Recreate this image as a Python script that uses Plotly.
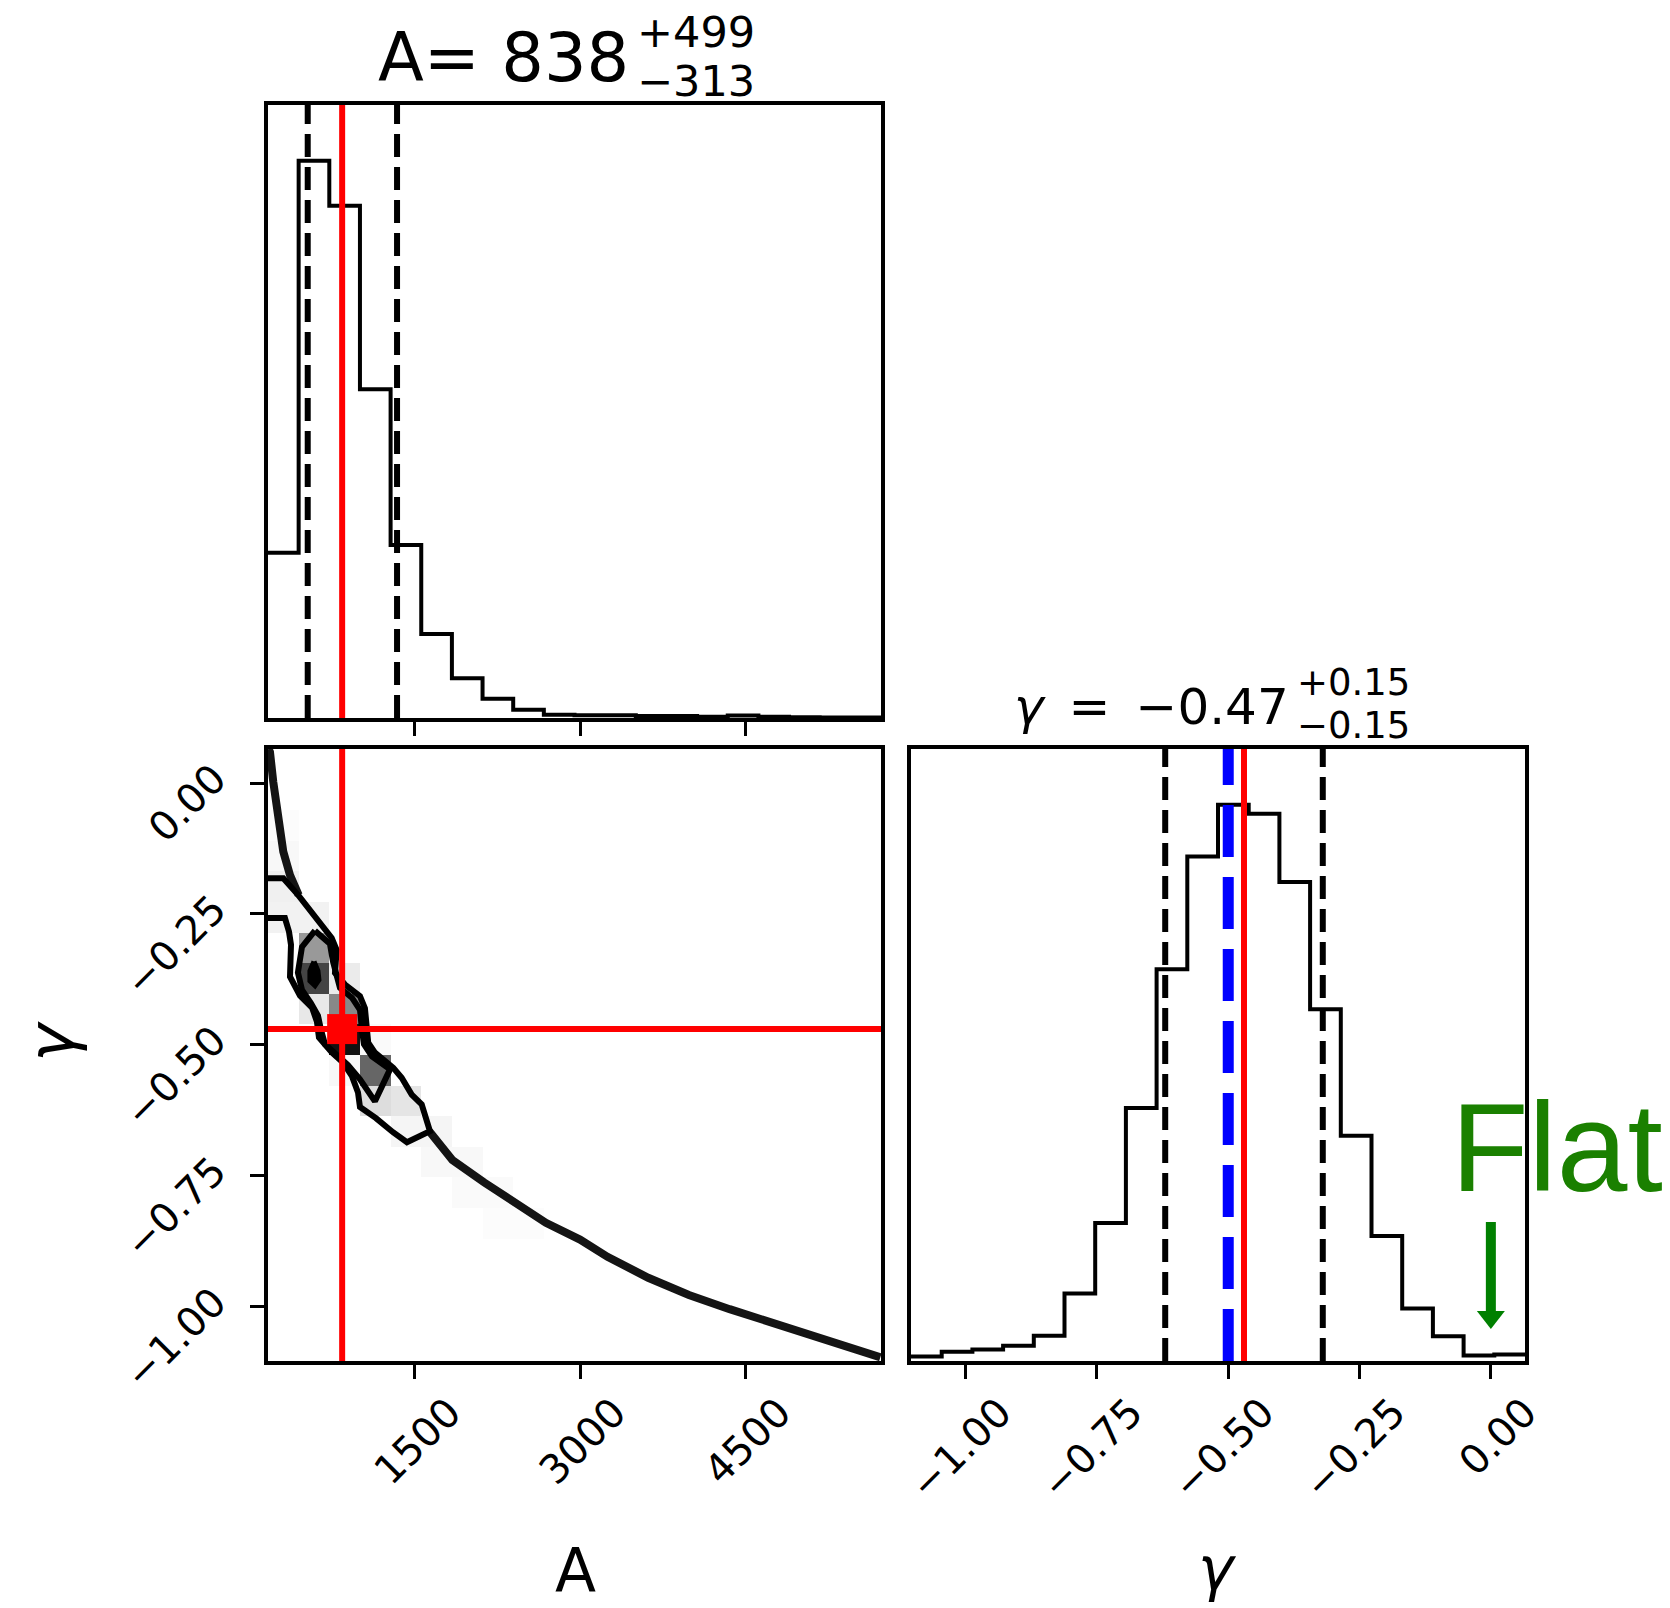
import numpy as np
import plotly.graph_objects as go

# ---------------- data ----------------
A_hist_counts = [403, 1360, 1250, 802, 422, 205, 97, 47, 20, 8, 7, 7, 5, 5, 3, 6, 3, 2, 1, 1]
gamma_hist_counts = [10, 20, 25, 33, 55, 147, 300, 550, 852, 1097, 1210, 1190, 1042, 765, 490, 272,
                     114, 54, 12, 14]
A_range = [164, 5736]
gamma_range = [-1.104, 0.065]
A_quantiles = [525, 1337]
gamma_quantiles = [-0.62, -0.32]
truth_A = 838
truth_gamma = -0.47
gamma_blue = -0.50
gamma_flat = 0.0
A_ticks = [1500, 3000, 4500]
gamma_ticks = [-1.0, -0.75, -0.5, -0.25, 0.0]

# samples outside the lowest contour (two visible pieces of the degeneracy curve)
curve_upper_A = [170, 182, 212, 227, 257, 303, 364, 425, 443]
curve_upper_gamma = [0.065, 0.059, 0.002, -0.023, -0.074, -0.131, -0.176, -0.208, -0.214]
curve_lower_A = [1630, 1840, 2130, 2390, 2690, 3000, 3250, 3620, 3990, 4360, 4730, 5100, 5470, 5730]
curve_lower_gamma = [-0.665, -0.720, -0.763, -0.800, -0.840, -0.872, -0.905, -0.945, -0.978,
                     -1.005, -1.030, -1.052, -1.076, -1.097]

# 2D histogram cells: A-bin index, gamma-bin index (from bottom), density (0 white .. 255 black)
cell_A_bin = [0, 0, 0, 0, 1, 1, 1, 1, 2, 2, 2, 3, 2, 3, 3, 4, 4, 5, 5, 6, 6, 7, 7, 8]
cell_gamma_bin = [17, 16, 15, 14, 14, 13, 12, 11, 12, 11, 10, 10, 9, 9, 8, 8, 7, 7, 6, 6, 5, 5, 4, 4]
cell_density = [3, 7, 15, 13, 13, 102, 187, 23, 20, 119, 238, 5, 7, 153, 34, 26, 10, 10, 7, 7, 5, 5, 3, 3]

# contour lines
contour_outer_A = [164, 303, 439, 591, 743, 788, 773, 864, 1000, 1045, 1061, 1075, 1136, 1303, 1379,
                   1470, 1561, 1636, 1427, 1300, 1145, 1000, 982, 927, 846, 746, 627, 609, 564, 455,
                   364, 373, 355, 318, 164]
contour_outer_gamma = [-0.182, -0.182, -0.214, -0.253, -0.296, -0.319, -0.363, -0.385, -0.407, -0.430,
                       -0.471, -0.496, -0.515, -0.544, -0.563, -0.595, -0.614, -0.665, -0.686, -0.667,
                       -0.640, -0.619, -0.591, -0.560, -0.534, -0.515, -0.486, -0.456, -0.429, -0.406,
                       -0.370, -0.309, -0.284, -0.258, -0.258]
contour_mid_A = [591, 727, 755, 818, 927, 1000, 1018, 1036, 1109, 1273, 1136, 1000, 891, 800, 682, 645,
                 618, 555, 473, 436, 473, 591]
contour_mid_gamma = [-0.282, -0.307, -0.341, -0.391, -0.410, -0.433, -0.471, -0.499, -0.522, -0.547,
                     -0.608, -0.566, -0.539, -0.520, -0.499, -0.471, -0.444, -0.421, -0.395, -0.362,
                     -0.313, -0.282]
contour_inner_A = [582, 618, 627, 591, 545, 545, 582]
contour_inner_gamma = [-0.341, -0.359, -0.376, -0.387, -0.378, -0.359, -0.341]

# ---------------- figure ----------------
W, H = 1670, 1608
FONT = "DejaVu Sans"
TICKFONT = dict(family=FONT, size=40, color="black")


def px_x(v):
    return v / W


def px_y(v):
    return 1 - v / H


dom_x1 = [px_x(268), px_x(881)]
dom_x3 = [px_x(911), px_x(1525)]
dom_ytop = [px_y(718), px_y(105)]
dom_ybot = [px_y(1361), px_y(749)]

fig = go.Figure()

# top: A histogram
A_edges = np.linspace(A_range[0], A_range[1], len(A_hist_counts) + 1)
fig.add_trace(go.Scatter(x=A_edges, y=list(A_hist_counts) + [A_hist_counts[-1]], mode="lines",
                         line=dict(color="black", width=4, shape="hv"), xaxis="x", yaxis="y",
                         showlegend=False, hoverinfo="skip"))

# bottom-right: gamma histogram
g_edges = np.linspace(gamma_range[0], gamma_range[1], len(gamma_hist_counts) + 1)
fig.add_trace(go.Scatter(x=g_edges, y=list(gamma_hist_counts) + [gamma_hist_counts[-1]], mode="lines",
                         line=dict(color="black", width=4, shape="hv"), xaxis="x3", yaxis="y3",
                         showlegend=False, hoverinfo="skip"))

# bottom-left: 2D histogram cells
nb = 20
z = [[None] * nb for _ in range(nb)]
for ia, ig, d in zip(cell_A_bin, cell_gamma_bin, cell_density):
    z[ig][ia] = d
A_centers = 0.5 * (A_edges[:-1] + A_edges[1:])
g2_edges = np.linspace(gamma_range[0], gamma_range[1], nb + 1)
g_centers = 0.5 * (g2_edges[:-1] + g2_edges[1:])
fig.add_trace(go.Heatmap(x=A_centers, y=g_centers, z=z, zmin=0, zmax=255,
                         colorscale=[[0, "white"], [1, "black"]], showscale=False,
                         xaxis="x2", yaxis="y2", hoverinfo="skip"))

for ca, cg in [(curve_upper_A, curve_upper_gamma), (curve_lower_A, curve_lower_gamma)]:
    fig.add_trace(go.Scatter(x=ca, y=cg, mode="lines", line=dict(color="#141414", width=8),
                             xaxis="x2", yaxis="y2", showlegend=False, hoverinfo="skip"))

for ca, cg in [(contour_outer_A, contour_outer_gamma), (contour_mid_A, contour_mid_gamma)]:
    fig.add_trace(go.Scatter(x=ca, y=cg, mode="lines", line=dict(color="black", width=6),
                             xaxis="x2", yaxis="y2", showlegend=False, hoverinfo="skip"))
fig.add_trace(go.Scatter(x=contour_inner_A, y=contour_inner_gamma, mode="lines", fill="toself",
                         fillcolor="black", line=dict(color="black", width=5),
                         xaxis="x2", yaxis="y2", showlegend=False, hoverinfo="skip"))

fig.add_trace(go.Scatter(x=[truth_A], y=[truth_gamma], mode="markers",
                         marker=dict(symbol="square", size=30, color="red", line=dict(width=0)),
                         xaxis="x2", yaxis="y2", showlegend=False, hoverinfo="skip"))

# ---------------- reference lines ----------------
shapes = []
BLACK_DASH = dict(color="black", width=6, dash="23px,10px")
RED = dict(color="red", width=6)
for q in A_quantiles:
    shapes.append(dict(type="line", xref="x", yref="y domain", x0=q, x1=q, y0=0, y1=1, line=BLACK_DASH))
shapes.append(dict(type="line", xref="x", yref="y domain", x0=truth_A, x1=truth_A, y0=0, y1=1, line=RED))
for q in gamma_quantiles:
    shapes.append(dict(type="line", xref="x3", yref="y3 domain", x0=q, x1=q, y0=0, y1=1, line=BLACK_DASH))
shapes.append(dict(type="line", xref="x3", yref="y3 domain", x0=gamma_blue, x1=gamma_blue, y0=0, y1=1,
                   line=dict(color="blue", width=11, dash="52px,20px")))
shapes.append(dict(type="line", xref="x3", yref="y3 domain", x0=truth_gamma, x1=truth_gamma, y0=0, y1=1,
                   line=RED))
shapes.append(dict(type="line", xref="x2", yref="y2 domain", x0=truth_A, x1=truth_A, y0=0, y1=1, line=RED))
shapes.append(dict(type="line", xref="x2 domain", yref="y2", x0=0, x1=1, y0=truth_gamma, y1=truth_gamma,
                   line=RED))

# green arrow pointing at gamma = 0 ("Flat")
g_per_px = (gamma_range[1] - gamma_range[0]) / (1525 - 911)
shapes.append(dict(type="line", xref="x3", yref="paper", x0=gamma_flat, x1=gamma_flat,
                   y0=px_y(1222), y1=px_y(1313), line=dict(color="#008000", width=10)))
hw = 14 * g_per_px
shapes.append(dict(type="path", xref="x3", yref="paper",
                   path=f"M {gamma_flat - hw},{px_y(1311)} L {gamma_flat + hw},{px_y(1311)} "
                        f"L {gamma_flat},{px_y(1329)} Z",
                   fillcolor="#008000", line=dict(width=0)))

# ---------------- annotations ----------------
ann = []


def add_text(text, x, y, size, xanchor="center", yanchor="middle", color="black", family=FONT, angle=0):
    ann.append(dict(text=text, x=px_x(x), y=px_y(y), xref="paper", yref="paper", showarrow=False,
                    xanchor=xanchor, yanchor=yanchor, textangle=angle, borderpad=0,
                    font=dict(family=family, size=size, color=color)))


add_text("A= 838", 630, 58, 67, xanchor="right")
add_text("+499", 636, 32, 43, xanchor="left")
add_text("\u2212313", 636, 81, 43, xanchor="left")
add_text("<i>\u03b3</i>\u2002=\u2002\u22120.47", 1290, 707, 50, xanchor="right")
add_text("+0.15", 1296, 682, 37, xanchor="left")
add_text("\u22120.15", 1296, 725, 37, xanchor="left")
add_text("A", 575, 1570, 60)
add_text("<i>\u03b3</i>", 1217, 1568, 60)
add_text("<i>\u03b3</i>", 52, 1042, 64, angle=-90)
add_text("Flat", 1450, 1147, 127, xanchor="left", color="#1a8000", family="Liberation Sans")

# ---------------- axes ----------------
axis_common = dict(showline=True, linecolor="black", linewidth=3.5, mirror=True, showgrid=False,
                   zeroline=False, ticks="outside", ticklen=14, tickwidth=3, tickcolor="black",
                   tickfont=TICKFONT, automargin=False)

fig.update_layout(
    width=W, height=H, autosize=False, margin=dict(l=0, r=0, t=0, b=0, autoexpand=False),
    paper_bgcolor="white", plot_bgcolor="white", showlegend=False,
    shapes=shapes, annotations=ann,
    xaxis=dict(axis_common, domain=dom_x1, anchor="y", range=A_range, tickvals=A_ticks,
               showticklabels=False),
    yaxis=dict(axis_common, domain=dom_ytop, anchor="x", range=[0, 1.1 * max(A_hist_counts)],
               ticks="", showticklabels=False),
    xaxis2=dict(axis_common, domain=dom_x1, anchor="y2", range=A_range, tickvals=A_ticks,
                ticktext=[str(t) for t in A_ticks], tickangle=-45, ticklabelshift=34, ticklabelstandoff=-6),
    yaxis2=dict(axis_common, domain=dom_ybot, anchor="x2", range=gamma_range, tickvals=gamma_ticks,
                tickformat=".2f", tickangle=-45, ticklabelshift=-10, ticklabelstandoff=28),
    xaxis3=dict(axis_common, domain=dom_x3, anchor="y3", range=gamma_range, tickvals=gamma_ticks,
                tickformat=".2f", tickangle=-45, ticklabelshift=34, ticklabelstandoff=-6),
    yaxis3=dict(axis_common, domain=dom_ybot, anchor="x3", range=[0, 1.1 * max(gamma_hist_counts)],
                ticks="", showticklabels=False),
)

fig.write_html("out.html")
